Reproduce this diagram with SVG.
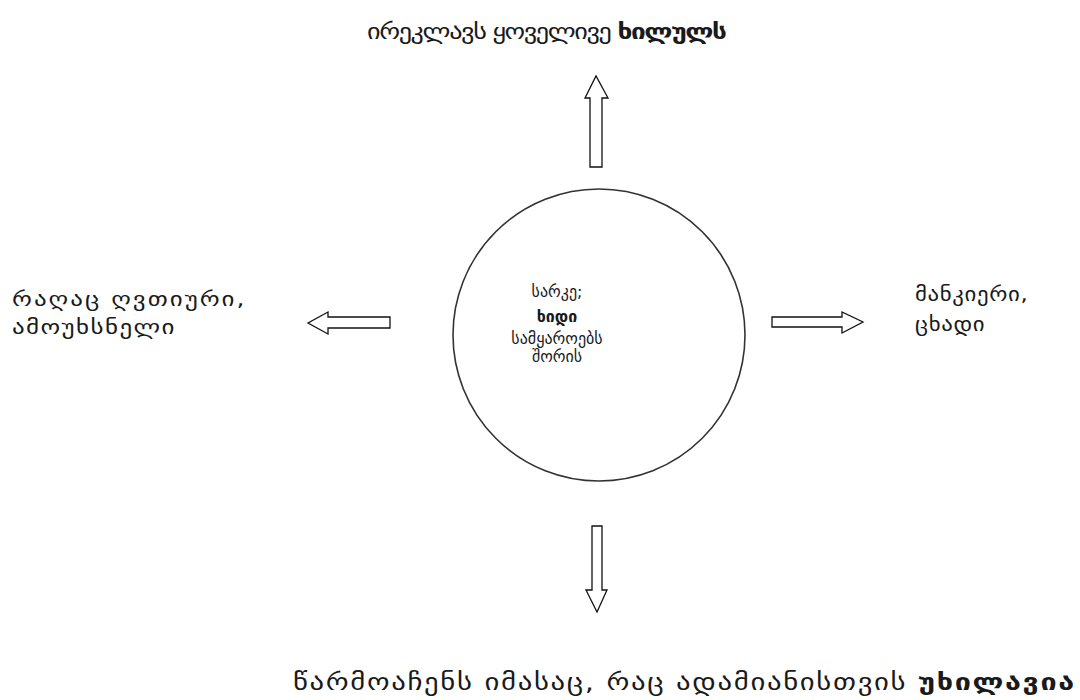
<svg xmlns="http://www.w3.org/2000/svg" width="1080" height="700" viewBox="0 0 1080 700">
<style>
.t{font-family:"DejaVu Sans",sans-serif;font-size:21px;fill:#1a1a1a}
.b{font-weight:bold}
.ar{fill:#fff;stroke:#111;stroke-width:1.3;stroke-linejoin:miter}
</style>
<rect width="1080" height="700" fill="#fff"/>
<g id="center">
<circle cx="599" cy="335" r="146" fill="none" stroke="#333" stroke-width="1.6"/>
<text class="t" text-anchor="middle" style="font-size:16px"><tspan x="557" y="297">სარკე;</tspan><tspan x="557" y="322" class="b">ხიდი</tspan><tspan x="557" y="344">სამყაროებს</tspan><tspan x="557" y="362">შორის</tspan></text>
</g>
<g id="top"><text class="t" transform="translate(367,39) scale(1.25,1)" x="0" y="0" textLength="288" lengthAdjust="spacing">ირეკლავს ყოველივე <tspan class="b">ხილულს</tspan></text></g>
<g id="left"><text class="t" transform="translate(12,306) scale(1.25,1)" x="0" y="0" textLength="186" lengthAdjust="spacing" style="font-size:20px">რაღაც ღვთიური,</text><text class="t" transform="translate(12,334) scale(1.25,1)" x="0" y="0" textLength="130" lengthAdjust="spacing" style="font-size:20px">ამოუხსნელი</text></g>
<g id="right"><text class="t" transform="translate(915,301) scale(1.2,1)" x="0" y="0" textLength="94" lengthAdjust="spacing" style="font-size:19px">მანკიერი,</text><text class="t" transform="translate(915,331) scale(1.2,1)" x="0" y="0" textLength="58" lengthAdjust="spacing" style="font-size:19px">ცხადი</text></g>
<g id="bottom"><text class="t" transform="translate(293,690) scale(1.25,1)" x="0" y="0" textLength="625" lengthAdjust="spacing" style="font-size:23px">წარმოაჩენს იმასაც, რაც ადამიანისთვის <tspan class="b">უხილავია</tspan></text></g>
<g id="connectors">
<polygon class="ar" points="590,167 590,98 585,98 596,76 608,98 602,98 602,167"/>
<polygon class="ar" points="592,526 602,526 602,590 607,590 597,612 586,590 592,590"/>
<polygon class="ar" points="390,317 328,317 328,312 308,323 328,334 328,328 390,328"/>
<polygon class="ar" points="772,317 842,317 842,312 863,322 842,333 842,327 772,327"/>
</g>
</svg>
